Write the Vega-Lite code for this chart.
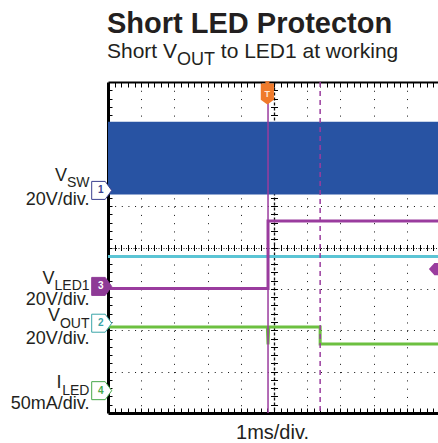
{
  "$schema": "https://vega.github.io/schema/vega-lite/v6.json",
  "width": 330,
  "height": 331,
  "autosize": {"type": "none"},
  "padding": {"left": 108, "top": 82, "right": 0, "bottom": 30},
  "background": "white",
  "config": {
    "view": {"stroke": null},
    "axis": {"labels": false, "zindex": 1, "tickColor": "#000", "domainColor": "#000", "gridColor": "#111", "gridOpacity": 1}
  },
  "datasets": {
    "band": [{"x0": 0, "x1": 9.94, "lo": 5.28, "hi": 7.04}],
    "cyan": [{"t": 0, "v": 3.78}, {"t": 9.94, "v": 3.78}],
    "vled": [{"t": 0, "v": 3.01}, {"t": 4.82, "v": 3.01}, {"t": 4.82, "v": 4.64}, {"t": 9.94, "v": 4.64}],
    "vout": [{"t": 0, "v": 2.08}, {"t": 4.8, "v": 2.08}, {"t": 4.82, "v": 1.66}, {"t": 4.84, "v": 2.08}, {"t": 6.39, "v": 2.08}, {"t": 6.39, "v": 1.67}, {"t": 9.94, "v": 1.67}],
    "cursors": [{"t": 4.82, "kind": "solid"}, {"t": 6.39, "kind": "dashed"}],
    "markers": [{"ch": "1", "t": -0.19, "v": 5.38}, {"ch": "2", "t": -0.19, "v": 2.17}, {"ch": "3", "t": -0.19, "v": 3.06}, {"ch": "4", "t": -0.19, "v": 0.54}],
    "trig": [{"t": 4.8, "v": 7.71, "txt": "T"}],
    "trigtop": [{"t": 4.8, "v": 7.96}],
    "rmark": [{"t": 9.85, "v": 3.48}],
    "lab_main": [{"txt": "V", "t": -1.238, "v": 5.6}, {"txt": "V", "t": -1.611, "v": 3.12}, {"txt": "V", "t": -1.448, "v": 2.23}, {"txt": "I", "t": -1.4, "v": 0.6}],
    "lab_sub": [{"txt": "SW", "t": -1.238, "v": 5.46}, {"txt": "LED1", "t": -1.611, "v": 2.97}, {"txt": "OUT", "t": -1.448, "v": 2.05}, {"txt": "LED", "t": -1.379, "v": 0.43}],
    "lab_scale": [{"txt": "20V/div.", "t": -0.557, "v": 5.03}, {"txt": "20V/div.", "t": -0.557, "v": 2.62}, {"txt": "20V/div.", "t": -0.557, "v": 1.66}, {"txt": "50mA/div.", "t": -0.557, "v": 0.09}],
    "title": [{"txt": "Short LED Protecton", "t": -0.03, "v": 9.18}],
    "subtitle": [{"txt": "Short V", "t": -0.03, "v": 8.575}, {"txt": "to LED1 at working", "t": 3.398, "v": 8.575}],
    "subtitle_sub": [{"txt": "OUT", "t": 2.078, "v": 8.41}],
    "xlabel": [{"txt": "1ms/div.", "t": 4.955, "v": -0.64}]
  },
  "resolve": {"axis": {"x": "independent", "y": "independent"}},
  "layer": [
    {
      "data": {"name": "band"},
      "mark": {"type": "rect", "color": "#2853A3", "clip": true},
      "encoding": {
        "x": {"field": "x0", "type": "quantitative", "title": null, "scale": {"domain": [0, 9.94], "nice": false, "zero": false},
          "axis": {"orient": "bottom", "values": [0.2,0.4,0.6,0.8,1,1.2,1.4,1.6,1.8,2,2.2,2.4,2.6,2.8,3,3.2,3.4,3.6,3.8,4,4.2,4.4,4.6,4.8,5,5.2,5.4,5.6,5.8,6,6.2,6.4,6.6,6.8,7,7.2,7.4,7.6,7.8,8,8.2,8.4,8.6,8.8,9,9.2,9.4,9.6,9.8], "tickSize": -5, "tickWidth": 1, "domain": true, "domainWidth": 3, "grid": false, "labels": false}},
        "x2": {"field": "x1"},
        "y": {"field": "lo", "type": "quantitative", "title": null, "scale": {"domain": [0, 8], "nice": false, "zero": false},
          "axis": {"orient": "left", "values": [0.2,0.4,0.6,0.8,1,1.2,1.4,1.6,1.8,2,2.2,2.4,2.6,2.8,3,3.2,3.4,3.6,3.8,4,4.2,4.4,4.6,4.8,5,5.2,5.4,5.6,5.8,6,6.2,6.4,6.6,6.8,7,7.2,7.4,7.6,7.8], "tickSize": -4, "tickWidth": 1, "domain": true, "domainWidth": 3, "grid": false, "labels": false}},
        "y2": {"field": "hi"}
      }
    },
    {
      "data": {"name": "cyan"},
      "mark": {"type": "line", "color": "#5CC5D5", "strokeWidth": 3, "clip": true},
      "encoding": {
        "x": {"field": "t", "type": "quantitative", "title": null, "scale": {"domain": [0, 9.94], "nice": false, "zero": false},
          "axis": {"orient": "top", "values": [0.2,0.4,0.6,0.8,1,1.2,1.4,1.6,1.8,2,2.2,2.4,2.6,2.8,3,3.2,3.4,3.6,3.8,4,4.2,4.4,4.6,4.8,5,5.2,5.4,5.6,5.8,6,6.2,6.4,6.6,6.8,7,7.2,7.4,7.6,7.8,8,8.2,8.4,8.6,8.8,9,9.2,9.4,9.6,9.8], "tickSize": -5, "tickWidth": 1, "domain": true, "domainWidth": 2, "grid": false, "labels": false}},
        "y": {"field": "v", "type": "quantitative", "title": null, "scale": {"domain": [0, 8], "nice": false, "zero": false},
          "axis": {"orient": "left", "values": [1, 2, 3, 5, 6, 7], "grid": true, "gridDash": [1, 5.64], "gridWidth": 1, "ticks": false, "domain": false, "labels": false}}
      }
    },
    {
      "data": {"name": "vled"},
      "mark": {"type": "line", "color": "#9A3C9E", "strokeWidth": 3, "clip": true},
      "encoding": {
        "x": {"field": "t", "type": "quantitative", "title": null, "scale": {"domain": [0, 9.94], "nice": false, "zero": false},
          "axis": {"orient": "bottom", "values": [1, 2, 3, 4, 6, 7, 8, 9], "grid": true, "gridDash": [1, 7.275], "gridWidth": 1, "ticks": false, "domain": false, "labels": false}},
        "y": {"field": "v", "type": "quantitative", "title": null, "scale": {"domain": [0, 8], "nice": false, "zero": false},
          "axis": {"orient": "left", "values": [4], "grid": true, "gridDash": [1, 1.5], "gridWidth": 1, "ticks": false, "domain": false, "labels": false}}
      }
    },
    {
      "data": {"name": "vout"},
      "mark": {"type": "line", "color": "#6CC040", "strokeWidth": 3, "clip": true},
      "encoding": {
        "x": {"field": "t", "type": "quantitative", "title": null, "scale": {"domain": [0, 9.94], "nice": false, "zero": false},
          "axis": {"orient": "bottom", "values": [5], "grid": true, "gridDash": [3, 2], "gridWidth": 1.3, "ticks": false, "domain": false, "labels": false}},
        "y": {"field": "v", "type": "quantitative", "title": null, "scale": {"domain": [0, 8], "nice": false, "zero": false},
          "axis": {"orient": "left", "offset": -162.5, "values": [0.2,0.4,0.6,0.8,1,1.2,1.4,1.6,1.8,2,2.2,2.4,2.6,2.8,3,3.2,3.4,3.6,3.8,4,4.2,4.4,4.6,4.8,5,5.2,5.4,5.6,5.8,6,6.2,6.4,6.6,6.8,7,7.2,7.4,7.6,7.8], "tickSize": -7, "tickWidth": 1, "ticks": true, "domain": false, "grid": false, "labels": false}}
      }
    },
    {
      "data": {"name": "cursors"},
      "mark": {"type": "rule", "color": "#9A3C9E", "strokeWidth": 1.5},
      "encoding": {
        "x": {"field": "t", "type": "quantitative", "title": null, "scale": {"domain": [0, 9.94], "nice": false, "zero": false},
          "axis": {"orient": "bottom", "offset": -168.5, "values": [0.2,0.4,0.6,0.8,1,1.2,1.4,1.6,1.8,2,2.2,2.4,2.6,2.8,3,3.2,3.4,3.6,3.8,4,4.2,4.4,4.6,4.8,5,5.2,5.4,5.6,5.8,6,6.2,6.4,6.6,6.8,7,7.2,7.4,7.6,7.8,8,8.2,8.4,8.6,8.8,9,9.2,9.4,9.6,9.8], "tickSize": 6, "tickWidth": 1, "domain": false, "grid": false, "labels": false}},
        "strokeDash": {"field": "kind", "type": "nominal", "scale": {"domain": ["solid", "dashed"], "range": [[1, 0], [5, 4]]}, "legend": null}
      }
    },
    {
      "data": {"name": "markers"},
      "mark": {"type": "point", "shape": "M-1,-0.9L0.35,-0.9L1,0L0.35,0.9L-1,0.9Z", "size": 400, "filled": true, "opacity": 1, "strokeWidth": 1},
      "encoding": {
        "x": {"field": "t", "type": "quantitative", "axis": null},
        "y": {"field": "v", "type": "quantitative", "axis": null},
        "fill": {"field": "ch", "type": "nominal", "scale": {"domain": ["1", "2", "3", "4"], "range": ["#ffffff", "#ffffff", "#8E3A96", "#ffffff"]}, "legend": null},
        "stroke": {"field": "ch", "type": "nominal", "scale": {"domain": ["1", "2", "3", "4"], "range": ["#3A3F8F", "#3AA5A8", "#8E3A96", "#47A84A"]}, "legend": null}
      }
    },
    {
      "data": {"name": "markers"},
      "mark": {"type": "text", "font": "Liberation Sans", "fontSize": 10, "fontWeight": "bold", "align": "center", "baseline": "middle", "dx": -1},
      "encoding": {
        "x": {"field": "t", "type": "quantitative", "axis": null},
        "y": {"field": "v", "type": "quantitative", "axis": null},
        "text": {"field": "ch"},
        "color": {"field": "ch", "type": "nominal", "scale": {"domain": ["1", "2", "3", "4"], "range": ["#3A3F8F", "#3AA5A8", "#ffffff", "#47A84A"]}, "legend": null}
      }
    },
    {
      "data": {"name": "trigtop"},
      "mark": {"type": "point", "shape": "triangle-down", "size": 30, "filled": true, "opacity": 1, "color": "#F07A2A"},
      "encoding": {
        "x": {"field": "t", "type": "quantitative", "axis": null},
        "y": {"field": "v", "type": "quantitative", "axis": null}
      }
    },
    {
      "data": {"name": "trig"},
      "mark": {"type": "point", "shape": "M-0.62,-1L0.62,-1L0.62,0.55L0,1L-0.62,0.55Z", "size": 450, "filled": true, "opacity": 1, "color": "#F07A2A"},
      "encoding": {
        "x": {"field": "t", "type": "quantitative", "axis": null},
        "y": {"field": "v", "type": "quantitative", "axis": null}
      }
    },
    {
      "data": {"name": "trig"},
      "mark": {"type": "text", "font": "Liberation Sans", "fontSize": 9, "fontWeight": "bold", "align": "center", "baseline": "middle", "color": "#FFE8D8"},
      "encoding": {
        "x": {"field": "t", "type": "quantitative", "axis": null},
        "y": {"field": "v", "type": "quantitative", "axis": null},
        "text": {"field": "txt"}
      }
    },
    {
      "data": {"name": "rmark"},
      "mark": {"type": "point", "shape": "M1,-1L1,1L-0.1,1L-1,0L-0.1,-1Z", "size": 150, "filled": true, "opacity": 1, "color": "#9A3C9E"},
      "encoding": {
        "x": {"field": "t", "type": "quantitative", "axis": null},
        "y": {"field": "v", "type": "quantitative", "axis": null}
      }
    },
    {
      "data": {"name": "lab_main"},
      "mark": {"type": "text", "font": "Liberation Sans", "fontSize": 18, "align": "right", "baseline": "alphabetic", "color": "#231F20"},
      "encoding": {
        "x": {"field": "t", "type": "quantitative", "axis": null},
        "y": {"field": "v", "type": "quantitative", "axis": null},
        "text": {"field": "txt"}
      }
    },
    {
      "data": {"name": "lab_sub"},
      "mark": {"type": "text", "font": "Liberation Sans", "fontSize": 14, "align": "left", "baseline": "alphabetic", "color": "#231F20"},
      "encoding": {
        "x": {"field": "t", "type": "quantitative", "axis": null},
        "y": {"field": "v", "type": "quantitative", "axis": null},
        "text": {"field": "txt"}
      }
    },
    {
      "data": {"name": "lab_scale"},
      "mark": {"type": "text", "font": "Liberation Sans", "fontSize": 18, "align": "right", "baseline": "alphabetic", "color": "#231F20"},
      "encoding": {
        "x": {"field": "t", "type": "quantitative", "axis": null},
        "y": {"field": "v", "type": "quantitative", "axis": null},
        "text": {"field": "txt"}
      }
    },
    {
      "data": {"name": "title"},
      "mark": {"type": "text", "font": "Liberation Sans", "fontSize": 29, "fontWeight": "bold", "align": "left", "baseline": "alphabetic", "color": "#231F20"},
      "encoding": {
        "x": {"field": "t", "type": "quantitative", "axis": null},
        "y": {"field": "v", "type": "quantitative", "axis": null},
        "text": {"field": "txt"}
      }
    },
    {
      "data": {"name": "subtitle"},
      "mark": {"type": "text", "font": "Liberation Sans", "fontSize": 21, "align": "left", "baseline": "alphabetic", "color": "#231F20"},
      "encoding": {
        "x": {"field": "t", "type": "quantitative", "axis": null},
        "y": {"field": "v", "type": "quantitative", "axis": null},
        "text": {"field": "txt"}
      }
    },
    {
      "data": {"name": "subtitle_sub"},
      "mark": {"type": "text", "font": "Liberation Sans", "fontSize": 18, "align": "left", "baseline": "alphabetic", "color": "#231F20"},
      "encoding": {
        "x": {"field": "t", "type": "quantitative", "axis": null},
        "y": {"field": "v", "type": "quantitative", "axis": null},
        "text": {"field": "txt"}
      }
    },
    {
      "data": {"name": "xlabel"},
      "mark": {"type": "text", "font": "Liberation Sans", "fontSize": 20, "align": "center", "baseline": "alphabetic", "color": "#231F20"},
      "encoding": {
        "x": {"field": "t", "type": "quantitative", "axis": null},
        "y": {"field": "v", "type": "quantitative", "axis": null},
        "text": {"field": "txt"}
      }
    }
  ]
}
